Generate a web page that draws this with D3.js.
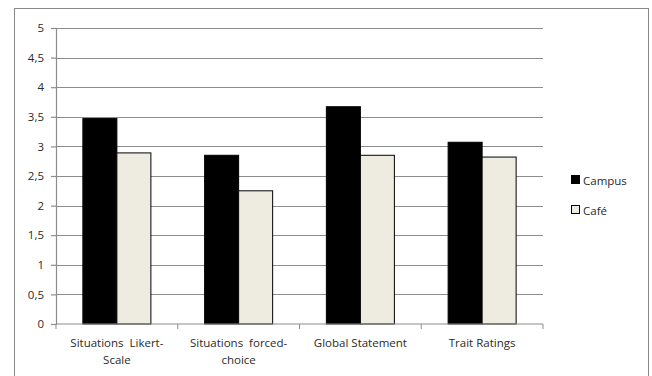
<!DOCTYPE html>
<html>
<head>
<meta charset="utf-8">
<script src="https://cdn.jsdelivr.net/npm/d3@7"></script>
<style>
  body { margin: 0; background: #fff; }
  text { font-family: "Open Sans", "DejaVu Sans", sans-serif; fill: #2a2a2a; }
</style>
</head>
<body>
<div id="chart"></div>
<script>
// chart values
const categories = [
  ['Situations  Likert-', 'Scale'],
  ['Situations  forced-', 'choice'],
  ['Global Statement'],
  ['Trait Ratings']
];
const seriesNames = ['Campus', 'Café'];
const campus = [3.47, 2.85, 3.67, 3.07];
const cafe = [2.89, 2.25, 2.85, 2.82];
const yTicks = [0, 0.5, 1, 1.5, 2, 2.5, 3, 3.5, 4, 4.5, 5];

const width = 652, height = 376;
const margin = { top: 28, left: 56, right: 109, bottom: 52 };
const colors = ['#000000', '#eeece1'];
const fs = '11.5px';

const svg = d3.select('#chart').append('svg')
  .attr('width', width)
  .attr('height', height);

// outer frame
svg.append('rect')
  .attr('x', 14.5).attr('y', 8.5)
  .attr('width', 634).attr('height', 380)
  .attr('fill', 'none').attr('stroke', '#888').attr('stroke-width', 1);

const x = d3.scaleBand()
  .domain(d3.range(categories.length))
  .range([margin.left, width - margin.right]);

const inner = d3.scaleBand()
  .domain(d3.range(seriesNames.length))
  .range([0, x.bandwidth()])
  .paddingOuter(0.79)
  .paddingInner(0);

const y = d3.scaleLinear()
  .domain([0, 5])
  .range([height - margin.bottom, margin.top]);

// gridlines
svg.append('g')
  .selectAll('line')
  .data(yTicks.filter(d => d > 0))
  .enter().append('line')
  .attr('x1', margin.left).attr('x2', width - margin.right)
  .attr('y1', d => Math.round(y(d)) + 0.5).attr('y2', d => Math.round(y(d)) + 0.5)
  .attr('stroke', '#8c8c8c').attr('stroke-width', 1.2);

// bars
const data = categories.map((c, i) => [campus[i], cafe[i]]);
const groups = svg.append('g').selectAll('g')
  .data(data)
  .enter().append('g')
  .attr('transform', (d, i) => `translate(${x(i)},0)`);

groups.selectAll('rect')
  .data(d => d)
  .enter().append('rect')
  .attr('x', (d, j) => inner(j))
  .attr('y', d => y(d))
  .attr('width', inner.bandwidth())
  .attr('height', d => y(0) - y(d))
  .attr('fill', (d, j) => colors[j])
  .attr('stroke', '#000')
  .attr('stroke-width', 1);

// y axis
const yAxis = svg.append('g')
  .attr('transform', `translate(${margin.left},0)`)
  .call(d3.axisLeft(y).tickValues(yTicks).tickSize(5).tickPadding(7)
    .tickFormat(d => String(d).replace('.', ',')));
yAxis.selectAll('text').style('font-size', fs);

// x axis
const xAxis = svg.append('g')
  .attr('transform', `translate(0,${height - margin.bottom})`);
xAxis.append('line')
  .attr('x1', margin.left).attr('x2', width - margin.right)
  .attr('stroke', '#8c8c8c').attr('stroke-width', 1.2);
xAxis.selectAll('.tk')
  .data(d3.range(categories.length + 1))
  .enter().append('line')
  .attr('x1', i => i < categories.length ? x(i) : x(i - 1) + x.bandwidth())
  .attr('x2', i => i < categories.length ? x(i) : x(i - 1) + x.bandwidth())
  .attr('y1', 0).attr('y2', 5)
  .attr('stroke', '#8c8c8c');
yAxis.selectAll('path,line').attr('stroke', '#8c8c8c').attr('stroke-width', 1.2);

const labels = xAxis.selectAll('.lbl')
  .data(categories)
  .enter().append('text')
  .attr('text-anchor', 'middle')
  .attr('transform', (d, i) => `translate(${x(i) + x.bandwidth() / 2},0)`)
  .style('font-size', fs);
labels.selectAll('tspan')
  .data(d => d)
  .enter().append('tspan')
  .attr('x', 0)
  .attr('y', (d, k) => 23 + k * 17)
  .attr('xml:space', 'preserve')
  .text(d => d);

// legend
const legend = svg.append('g')
  .attr('transform', 'translate(571,175)');
const li = legend.selectAll('g')
  .data(seriesNames)
  .enter().append('g')
  .attr('transform', (d, i) => `translate(0,${i * 30})`);
li.append('rect')
  .attr('x', 0.5).attr('y', 0.5)
  .attr('width', 8).attr('height', 8)
  .attr('fill', (d, i) => colors[i])
  .attr('stroke', '#000');
li.append('text')
  .attr('x', 12).attr('y', 9.5)
  .style('font-size', fs)
  .text(d => d);
</script>
</body>
</html>
